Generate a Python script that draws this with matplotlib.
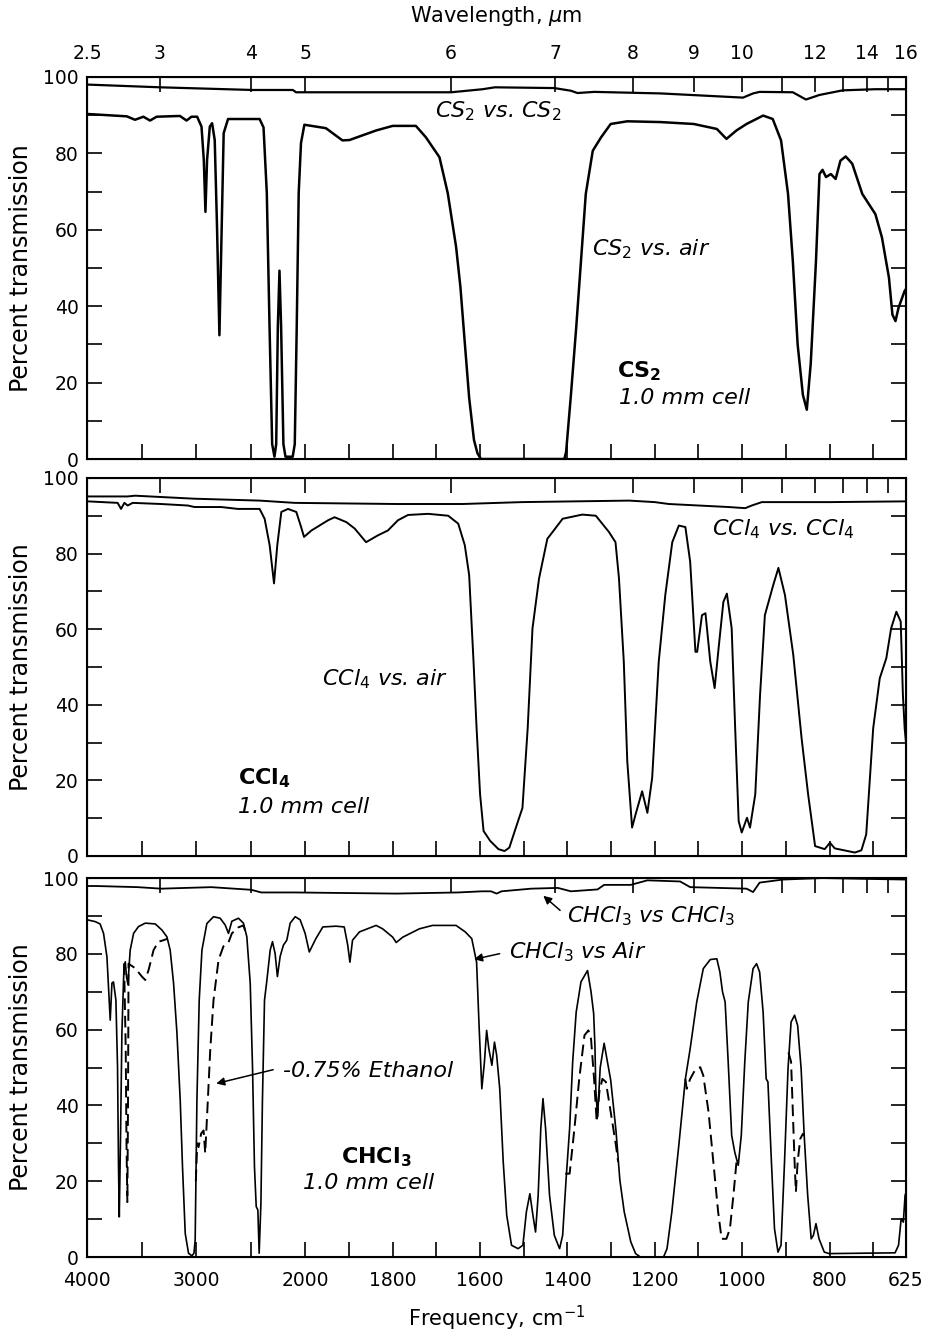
import matplotlib
matplotlib.use('Agg')
import matplotlib.pyplot as plt
import numpy as np

plt.rcParams['font.family'] = ['DejaVu Sans']
plt.rcParams['mathtext.fontset'] = 'dejavusans'

# frequency axis: 4000-2000 cm-1 at quarter scale, 2000-625 cm-1 at full scale
def fwd(nu):
    nu = np.asarray(nu, dtype=float)
    return np.where(nu >= 2000, (nu - 4000) / 4.0, nu - 2500)

def inv(u):
    u = np.asarray(u, dtype=float)
    return np.where(u >= -500, 4000 + 4.0 * u, 2500 + u)

freq_major = [4000, 3000, 2000, 1800, 1600, 1400, 1200, 1000, 800, 625]
freq_minor = [3500, 2500, 1900, 1700, 1500, 1300, 1100, 900, 700]
wl_major = [2.5, 3, 4, 5, 6, 7, 8, 9, 10, 12, 14, 16]
wl_minor = [11, 13, 15]

# (cm-1, % transmission)
cs2_ref = [(4000, 98.0), (3985, 98.0), (3331, 97.3), (2486, 96.6), (2115, 96.6), (2085, 96.0),
           (2000, 96.0), (1666, 96.0), (1594, 96.8), (1566, 97.3), (1430, 97.1), (1392, 96.4),
           (1377, 95.8), (1339, 96.1), (1187, 95.7), (998, 94.6), (975, 95.7), (960, 96.1),
           (884, 96.0), (854, 94.1), (823, 95.3), (770, 96.5), (695, 96.8), (625, 96.8)]

cs2_air = [(4000, 90.3), (3985, 90.3), (3635, 89.7), (3560, 88.8), (3483, 89.6), (3422, 88.6),
           (3362, 89.6), (3149, 89.8), (3088, 88.6), (3043, 89.6), (2991, 89.6), (2951, 87.0),
           (2930, 78.3), (2915, 64.7), (2900, 78.3), (2875, 87.0), (2854, 87.9), (2830, 83.5),
           (2809, 60.8), (2787, 32.4), (2766, 60.8), (2748, 85.3), (2708, 89.0), (2419, 89.0),
           (2383, 86.8), (2353, 69.6), (2328, 34.6), (2304, 3.9), (2283, 0.6), (2267, 3.9),
           (2252, 34.6), (2237, 49.3), (2222, 34.6), (2201, 3.9), (2182, 0.6), (2116, 0.6),
           (2097, 3.9), (2079, 34.6), (2061, 69.6), (2040, 82.7), (2009, 87.5), (1953, 86.6),
           (1915, 83.4), (1899, 83.5), (1838, 86.0), (1800, 87.2), (1747, 87.2), (1724, 84.2),
           (1693, 79.0), (1674, 69.6), (1655, 55.6), (1645, 45.0), (1636, 31.9), (1625, 16.0),
           (1614, 5.0), (1606, 1.5), (1598, 0.0), (1407, 0.0), (1403, 1.9), (1392, 16.8),
           (1380, 34.3), (1369, 51.8), (1358, 69.4), (1342, 80.7), (1323, 84.2), (1301, 87.7),
           (1263, 88.4), (1187, 88.2), (1111, 87.7), (1058, 86.4), (1036, 83.8), (1013, 86.0),
           (990, 87.7), (952, 89.9), (930, 89.0), (911, 83.4), (895, 69.4), (884, 51.8),
           (873, 30.0), (861, 16.8), (852, 12.9), (843, 25.0), (831, 51.8), (823, 74.6),
           (816, 75.7), (808, 73.8), (797, 74.6), (786, 73.3), (775, 78.1), (763, 79.2),
           (748, 77.3), (725, 69.4), (695, 64.1), (680, 58.0), (664, 47.5), (656, 37.8),
           (649, 36.1), (642, 39.6), (628, 44.0), (625, 44.5)]

ccl4_ref = [(4000, 95.1), (3994, 95.1), (3627, 95.1), (3560, 95.3), (3015, 94.5), (2419, 94.0),
            (2098, 93.4), (1792, 93.1), (1640, 93.1), (1505, 93.6), (1259, 94.0), (1200, 93.6),
            (1168, 93.1), (1031, 92.3), (993, 92.0), (978, 92.7), (955, 93.6), (800, 93.6),
            (625, 93.8)]

ccl4_air = [(4000, 93.8), (3994, 93.8), (3719, 93.4), (3688, 91.8), (3657, 93.4), (3627, 92.7),
            (3581, 93.4), (3321, 93.1), (3076, 92.7), (3015, 92.3), (2771, 92.3), (2618, 91.8),
            (2419, 91.8), (2373, 89.2), (2327, 82.2), (2287, 72.1), (2257, 82.2), (2220, 91.0),
            (2159, 91.8), (2083, 91.0), (2043, 87.4), (2012, 84.4), (1986, 86.1), (1948, 88.8),
            (1933, 89.6), (1906, 88.3), (1887, 86.6), (1861, 83.0), (1834, 84.8), (1811, 86.1),
            (1788, 88.8), (1765, 90.2), (1719, 90.5), (1673, 90.0), (1650, 87.9), (1635, 82.2),
            (1625, 74.3), (1615, 51.4), (1608, 33.8), (1600, 16.3), (1592, 6.6), (1577, 4.0),
            (1558, 1.8), (1544, 1.3), (1533, 2.2), (1518, 7.5), (1503, 12.7), (1491, 33.8),
            (1480, 60.2), (1465, 73.4), (1446, 83.9), (1434, 85.7), (1411, 89.2), (1366, 90.3),
            (1335, 90.0), (1305, 85.7), (1290, 83.0), (1282, 73.4), (1271, 51.4), (1263, 25.0),
            (1252, 7.5), (1244, 11.0), (1229, 17.1), (1217, 11.4), (1206, 20.7), (1191, 51.4),
            (1176, 69.0), (1160, 83.0), (1145, 87.4), (1130, 87.0), (1119, 77.8), (1107, 54.0),
            (1103, 54.0), (1092, 63.7), (1084, 64.2), (1073, 51.4), (1063, 44.4), (1054, 54.9),
            (1043, 67.2), (1035, 69.4), (1024, 60.2), (1016, 33.8), (1008, 9.2), (1001, 6.2),
            (989, 10.1), (982, 7.5), (970, 16.3), (959, 42.6), (948, 63.7), (929, 71.6),
            (917, 76.2), (902, 69.0), (883, 53.2), (864, 31.2), (849, 16.3), (833, 2.6),
            (811, 1.8), (799, 3.5), (788, 2.0), (742, 0.9), (727, 1.5), (716, 5.7),
            (700, 33.8), (685, 47.0), (670, 52.3), (659, 60.2), (647, 64.6), (637, 62.0),
            (632, 42.6), (628, 33.8), (625, 30.0)]

chcl3_ref = [(4000, 97.9), (3917, 97.9), (3535, 97.6), (3321, 97.2), (2862, 97.6), (2495, 96.9),
             (2404, 96.2), (2098, 96.2), (1792, 95.9), (1650, 96.2), (1596, 96.5), (1575, 96.5),
             (1562, 95.9), (1551, 96.5), (1483, 97.2), (1422, 97.4), (1392, 96.5), (1331, 97.0),
             (1316, 98.2), (1255, 98.2), (1217, 99.4), (1142, 99.1), (1119, 97.6), (990, 97.2),
             (975, 96.3), (960, 98.8), (907, 99.6), (816, 100.0), (725, 99.8), (625, 99.6)]

chcl3_air = [(4000, 89.0), (3924, 88.5), (3880, 87.9), (3848, 85.4), (3817, 79.2), (3796, 67.8),
             (3787, 62.5), (3771, 72.3), (3757, 72.6), (3735, 67.8), (3720, 50.2), (3711, 23.8),
             (3704, 10.6), (3692, 32.7), (3680, 59.1), (3661, 76.6), (3649, 77.9), (3638, 74.0),
             (3625, 72.0), (3604, 81.0), (3573, 85.4), (3528, 87.2), (3466, 88.1), (3375, 87.9),
             (3314, 86.3), (3268, 84.5), (3238, 81.0), (3207, 72.3), (3176, 59.1), (3146, 41.4),
             (3125, 23.8), (3100, 6.2), (3070, 1.0), (3039, 0.3), (3020, 1.0), (3009, 4.5),
             (2993, 41.4), (2972, 67.8), (2947, 81.0), (2902, 88.0), (2841, 89.8), (2780, 89.4),
             (2734, 87.6), (2704, 85.4), (2673, 88.6), (2613, 89.4), (2567, 88.1), (2536, 84.5),
             (2505, 72.3), (2484, 50.2), (2466, 23.8), (2450, 13.3), (2435, 12.4), (2423, 1.0),
             (2407, 14.2), (2393, 41.4), (2374, 67.8), (2352, 73.1), (2322, 81.0), (2301, 83.2),
             (2277, 80.1), (2256, 74.0), (2231, 79.3), (2201, 82.3), (2170, 83.6), (2139, 88.1),
             (2093, 89.8), (2048, 89.0), (2002, 85.4), (1991, 80.5), (1976, 84.0), (1960, 87.1),
             (1930, 87.3), (1911, 87.1), (1903, 82.3), (1898, 77.8), (1892, 83.6), (1876, 85.8),
             (1838, 87.5), (1823, 86.6), (1800, 84.4), (1792, 83.0), (1777, 84.4), (1739, 86.6),
             (1709, 87.5), (1655, 87.5), (1634, 85.8), (1619, 84.0), (1608, 77.8), (1602, 60.2),
             (1596, 44.4), (1590, 51.5), (1585, 59.8), (1580, 55.0), (1573, 50.6), (1567, 56.7),
             (1562, 53.2), (1555, 44.4), (1547, 25.1), (1539, 11.0), (1528, 3.1), (1513, 2.2),
             (1502, 3.1), (1494, 11.9), (1486, 16.7), (1479, 11.0), (1473, 6.6), (1467, 16.3),
             (1461, 33.9), (1456, 41.8), (1450, 33.9), (1441, 16.3), (1430, 5.7), (1418, 2.2),
             (1411, 5.7), (1403, 20.7), (1395, 33.9), (1388, 51.5), (1380, 64.6), (1369, 72.6),
             (1354, 75.6), (1346, 70.0), (1340, 64.3), (1337, 55.5), (1335, 44.1), (1331, 37.0),
             (1325, 50.0), (1316, 56.4), (1301, 46.7), (1289, 33.5), (1280, 20.3), (1270, 11.9),
             (1255, 4.0), (1244, 0.9), (1233, 0.0), (1180, 0.0), (1172, 2.2), (1161, 11.9),
             (1145, 29.5), (1130, 47.0), (1119, 55.0), (1104, 67.3), (1089, 76.1), (1073, 78.5),
             (1058, 78.7), (1051, 75.2), (1045, 70.0), (1039, 67.3), (1032, 51.5), (1024, 32.1),
             (1017, 27.7), (1009, 24.2), (1002, 32.1), (994, 51.5), (986, 67.3), (975, 76.1),
             (967, 77.4), (960, 75.2), (952, 64.6), (945, 47.0), (941, 46.2), (933, 25.1),
             (926, 7.5), (918, 1.3), (911, 3.1), (903, 25.1), (895, 49.7), (888, 62.0),
             (880, 63.8), (873, 61.1), (865, 49.7), (858, 32.1), (850, 16.3), (842, 4.8),
             (837, 5.7), (831, 8.8), (824, 4.8), (812, 1.3), (801, 0.9), (650, 1.1),
             (642, 3.1), (636, 10.1), (631, 9.2), (627, 16.3), (625, 17.0)]

# 0.75% ethanol trace, only where it departs from the CHCl3 curve
ethanol = [
    [(3660, 77.5), (3645, 55.0), (3638, 30.0), (3630, 14.5), (3624, 40.0), (3619, 77.4),
     (3558, 76.2), (3497, 74.0), (3466, 73.1), (3436, 75.7), (3390, 81.0), (3345, 83.2),
     (3299, 83.6), (3262, 84.0)],
    [(3003, 20.0), (2990, 30.0), (2978, 29.0), (2954, 32.6), (2932, 33.4), (2917, 27.4),
     (2908, 32.6), (2893, 41.4), (2871, 54.6), (2841, 67.8), (2795, 78.4), (2750, 82.0),
     (2704, 83.0), (2673, 85.4), (2613, 87.0), (2567, 87.5), (2545, 85.5)],
    [(1405, 22.0), (1395, 22.0), (1384, 33.9), (1373, 47.0), (1361, 58.5), (1352, 59.8),
     (1346, 57.6), (1339, 47.0), (1333, 35.6), (1327, 43.5), (1320, 47.0), (1312, 46.2),
     (1301, 38.3), (1289, 29.5), (1284, 25.1)],
    [(1130, 47.0), (1127, 44.4), (1119, 47.0), (1108, 49.3), (1096, 50.1), (1089, 47.9),
     (1077, 38.3), (1066, 25.1), (1055, 11.9), (1047, 4.8), (1036, 4.8), (1028, 7.5),
     (1020, 16.3), (1013, 25.1)],
    [(894, 54.0), (888, 51.5), (884, 38.3), (880, 25.1), (877, 17.2), (873, 25.1),
     (867, 31.2), (861, 32.5), (858, 32.0)],
]


def trace(ax, pts, lw, **kw):
    nu, t = np.array(pts).T
    ax.plot(nu, t, color='black', lw=lw, solid_joinstyle='round', **kw)


def setup(ax, show_bottom, show_top):
    ax.set_xscale('function', functions=(fwd, inv))
    ax.set_xlim(4000, 625)
    ax.set_ylim(0, 100)
    ax.set_xticks(freq_major, labels=[str(f) for f in freq_major])
    ax.set_xticks(freq_minor, minor=True)
    ax.set_yticks(range(0, 101, 20))
    ax.set_yticks(range(10, 100, 20), minor=True)
    ax.tick_params(which='both', direction='in', length=11, width=1.2,
                   right=True, top=False, labelsize=13.5, pad=6)
    ax.tick_params(axis='x', labelbottom=show_bottom, pad=10)
    for s in ax.spines.values():
        s.set_linewidth(1.5)
    ax.set_ylabel('Percent transmission', fontsize=17)
    ax.yaxis.set_label_coords(-0.066, 0.5)

    tw = ax.twiny()
    tw.set_xscale('function', functions=(fwd, inv))
    tw.set_xlim(4000, 625)
    tw.set_xticks([1e4 / w for w in wl_major], labels=[f'{w:g}' for w in wl_major])
    tw.set_xticks([1e4 / w for w in wl_minor], minor=True)
    tw.tick_params(which='both', direction='in', length=11, width=1.2,
                   labelsize=13.5, pad=10, labeltop=show_top)
    return tw


fig = plt.figure(figsize=(9.29, 13.32), dpi=100)
ax1 = fig.add_axes([0.0936, 0.6554, 0.8816, 0.2868])
ax2 = fig.add_axes([0.0936, 0.3574, 0.8816, 0.2838])
ax3 = fig.add_axes([0.0936, 0.0563, 0.8816, 0.2845])

# CS2 panel
tw1 = setup(ax1, False, True)
trace(ax1, cs2_ref, 1.6)
trace(ax1, cs2_air, 1.8)
tw1.set_xlabel(r'Wavelength, $\mu$m', fontsize=15, labelpad=16)
it = dict(fontsize=16, style='italic')
ax1.text(1558, 91, r'CS$_\mathit{2}$ vs. CS$_\mathit{2}$', ha='center', va='center', **it)
ax1.text(1343, 55, r'CS$_\mathit{2}$ vs. air', ha='left', va='center', **it)
ax1.text(1286, 23, r'CS$_\mathbf{2}$', ha='left', va='center', fontsize=16, weight='bold')
ax1.text(1281, 16, '1.0 mm cell', ha='left', va='center', **it)

# CCl4 panel
setup(ax2, False, False)
trace(ax2, ccl4_ref, 1.4)
trace(ax2, ccl4_air, 1.4)
ax2.text(1069, 86.5, r'CCl$_\mathit{4}$ vs. CCl$_\mathit{4}$', ha='left', va='center', **it)
ax2.text(1963, 46.8, r'CCl$_\mathit{4}$ vs. air', ha='left', va='center', **it)
ax2.text(2615, 20.6, r'CCl$_\mathbf{4}$', ha='left', va='center', fontsize=16, weight='bold')
ax2.text(2615, 13, '1.0 mm cell', ha='left', va='center', **it)

# CHCl3 panel
setup(ax3, True, False)
trace(ax3, chcl3_ref, 1.3)
trace(ax3, chcl3_air, 1.2)
for seg in ethanol:
    trace(ax3, seg, 1.4, ls=(0, (6, 3)))
ax3.set_xlabel('Frequency, cm$^{-1}$', fontsize=15, labelpad=10)
arrow = dict(arrowstyle='-|>', color='black', lw=1.1, mutation_scale=12)
ax3.text(1400, 90, r'CHCl$_\mathit{3}$ vs CHCl$_\mathit{3}$', ha='left', va='center', **it)
ax3.annotate('', xy=(1460, 95.8), xytext=(1412, 91), arrowprops=arrow)
ax3.text(1533, 80.5, r'CHCl$_\mathit{3}$ vs Air', ha='left', va='center', **it)
ax3.annotate('', xy=(1620, 78.4), xytext=(1549, 80.2), arrowprops=arrow)
ax3.text(2203, 49.1, '-0.75% Ethanol', ha='left', va='center', **it)
ax3.annotate('', xy=(2841, 45.6), xytext=(2270, 49.6), arrowprops=arrow)
ax3.text(1918, 26.4, r'CHCl$_\mathbf{3}$', ha='left', va='center', fontsize=16, weight='bold')
ax3.text(2020, 19.5, '1.0 mm cell', ha='left', va='center', **it)

fig.savefig('out.png', dpi=100)
